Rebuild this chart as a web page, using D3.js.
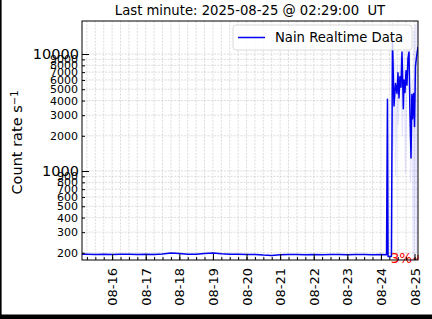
<!DOCTYPE html>
<html>
<head>
<meta charset="utf-8">
<script src="https://cdn.jsdelivr.net/npm/d3@7"></script>
<style>
body { margin:0; background:#fff; }
svg { display:block; font-family:"DejaVu Sans", sans-serif; }
</style>
</head>
<body>
<div id="chart-area"></div>
<script>
// Data
var times = [
    "2025-08-15T02:29","2025-08-15T06:00","2025-08-15T12:00","2025-08-15T18:00",
    "2025-08-16T00:00","2025-08-16T06:00","2025-08-16T12:00","2025-08-16T18:00",
    "2025-08-17T00:00","2025-08-17T06:00","2025-08-17T12:00","2025-08-17T18:00",
    "2025-08-18T00:00","2025-08-18T06:00","2025-08-18T12:00","2025-08-18T18:00",
    "2025-08-19T00:00","2025-08-19T06:00","2025-08-19T12:00","2025-08-19T18:00",
    "2025-08-20T00:00","2025-08-20T06:00","2025-08-20T12:00","2025-08-20T18:00",
    "2025-08-21T00:00","2025-08-21T06:00","2025-08-21T12:00","2025-08-21T18:00",
    "2025-08-22T00:00","2025-08-22T06:00","2025-08-22T12:00","2025-08-22T18:00",
    "2025-08-23T00:00","2025-08-23T06:00","2025-08-23T12:00","2025-08-23T18:00",
    "2025-08-24T00:00","2025-08-24T04:00","2025-08-24T04:40","2025-08-24T05:05",
    "2025-08-24T07:30","2025-08-24T08:15","2025-08-24T09:20","2025-08-24T10:25",
    "2025-08-24T11:29","2025-08-24T12:11","2025-08-24T12:54","2025-08-24T13:35",
    "2025-08-24T14:20","2025-08-24T15:03","2025-08-24T16:00","2025-08-24T16:29",
    "2025-08-24T17:11","2025-08-24T17:55","2025-08-24T18:35","2025-08-24T19:20",
    "2025-08-24T20:03","2025-08-24T20:45","2025-08-24T21:29","2025-08-24T22:05",
    "2025-08-24T22:35","2025-08-24T23:17","2025-08-25T00:00","2025-08-25T00:40",
    "2025-08-25T01:25","2025-08-25T02:29"
];
var counts = [
    194, 194, 193, 194,
    193, 194, 194, 193,
    194, 193, 195, 199,
    197, 194, 194, 197,
    199, 196, 194, 194,
    193, 193, 191, 190,
    192, 193, 193, 192,
    193, 192, 193, 193,
    192, 193, 193, 192,
    193, 192, 4100, 186,
    186, 13700, 3600, 5600,
    4600, 6900, 4200, 6400,
    5200, 10400, 3400, 6000,
    4700, 7200, 5400, 9200,
    10400, 3100, 1290, 4500,
    2800, 4600, 2400, 7800,
    9400, 11500
];
// faint raw trace behind the main line
var rawTimes = [
    "2025-08-24T07:55","2025-08-24T08:10","2025-08-24T08:40","2025-08-24T09:50",
    "2025-08-24T10:30","2025-08-24T11:40","2025-08-24T12:20","2025-08-24T14:00",
    "2025-08-24T15:20","2025-08-24T16:40","2025-08-24T17:30","2025-08-24T19:00",
    "2025-08-24T20:20","2025-08-24T21:10","2025-08-24T22:20","2025-08-24T23:00",
    "2025-08-24T23:30","2025-08-25T00:10","2025-08-25T00:50","2025-08-25T01:30",
    "2025-08-25T02:00","2025-08-25T02:29"
];
var rawCounts = [
    190, 18500, 1500, 9000,
    900, 8000, 2500, 9500,
    2000, 12000, 950, 11000,
    17500, 800, 6000, 180,
    16000, 185, 18000, 200,
    19000, 12000
];
var xTicks = ["2025-08-16","2025-08-17","2025-08-18","2025-08-19","2025-08-20",
              "2025-08-21","2025-08-22","2025-08-23","2025-08-24","2025-08-25"];
var yMajorTicks = [1000, 10000];
var yMinorTicks = [200, 300, 400, 500, 600, 700, 800, 900,
                   2000, 3000, 4000, 5000, 6000, 7000, 8000, 9000];
var changeTimes = ["2025-08-24T22:40", "2025-08-25T02:29"];
var changeLabel = "3%";
var titleText = "Last minute: 2025-08-25 @ 02:29:00  UT";
var seriesName = "Nain Realtime Data";

var W = 432, H = 319;
var margin = { left:82, right:14, top:21, bottom:59 };
var width = W - margin.left - margin.right,
    height = H - margin.top - margin.bottom;

var parse = d3.utcParse("%Y-%m-%dT%H:%M");
var parseDay = d3.utcParse("%Y-%m-%d");

var data = times.map(function(t, i){ return { t: parse(t), v: counts[i] }; });
var raw = rawTimes.map(function(t, i){ return { t: parse(t), v: rawCounts[i] }; });

var svg = d3.select("#chart-area")
    .append("svg")
        .attr("width", W)
        .attr("height", H);

var g = svg.append("g")
    .attr("transform", "translate(" + margin.left + "," + margin.top + ")");

// Scales
var x = d3.scaleUtc()
    .domain([parse("2025-08-15T02:29"), parse("2025-08-25T02:29")])
    .range([0, width]);

var y = d3.scaleLog()
    .domain([173.5, 19150])
    .range([height, 0]);

// Grid
var gridX = d3.utcHour.every(6).range(x.domain()[0], x.domain()[1]);
g.append("g").selectAll("line")
    .data(gridX)
    .enter().append("line")
        .attr("x1", function(d){ return x(d); })
        .attr("x2", function(d){ return x(d); })
        .attr("y1", 0).attr("y2", height)
        .attr("stroke", "#c4c4c4")
        .attr("stroke-width", 0.6)
        .attr("stroke-dasharray", "2,1.3");

g.append("g").selectAll("line")
    .data(yMajorTicks.concat(yMinorTicks))
    .enter().append("line")
        .attr("x1", 0).attr("x2", width)
        .attr("y1", function(d){ return y(d); })
        .attr("y2", function(d){ return y(d); })
        .attr("stroke", "#c4c4c4")
        .attr("stroke-width", 0.6)
        .attr("stroke-dasharray", "2,1.3");

// clip
svg.append("defs").append("clipPath").attr("id", "clip")
    .append("rect").attr("width", width).attr("height", height);

var line = d3.line()
    .x(function(d){ return x(d.t); })
    .y(function(d){ return y(d.v); });

var plot = g.append("g").attr("clip-path", "url(#clip)");

plot.append("path")
    .datum(raw)
    .attr("d", line)
    .attr("fill", "none")
    .attr("stroke", "#7070ff")
    .attr("stroke-opacity", 0.18)
    .attr("stroke-width", 1.2);

plot.append("path")
    .datum(data)
    .attr("d", line)
    .attr("fill", "none")
    .attr("stroke", "#0000ee")
    .attr("stroke-width", 1.5)
    .attr("stroke-linejoin", "round");

// percent change marker
var c0 = parse(changeTimes[0]), c1 = parse(changeTimes[1]);
g.append("path")
    .attr("d", "M" + x(c0) + "," + y(177) + "H" + x(c1) + "V" + y(191))
    .attr("fill", "none")
    .attr("stroke", "red")
    .attr("stroke-width", 1.2);
g.append("text")
    .attr("x", x(c0) - 0.5)
    .attr("y", height + 2.5)
    .attr("text-anchor", "end")
    .attr("font-size", "13.5px")
    .attr("fill", "red")
    .text(changeLabel);

// X axis (inward ticks)
var xAxisGroup = g.append("g")
    .attr("transform", "translate(0," + height + ")");
xAxisGroup.call(d3.axisBottom(x)
        .tickValues(gridX)
        .tickSize(-3)
        .tickFormat(""))
    .call(function(s){ s.select(".domain").remove(); });

var xMajor = g.append("g")
    .attr("transform", "translate(0," + height + ")");
xMajor.call(d3.axisBottom(x)
        .tickValues(xTicks.map(parseDay))
        .tickSize(-6)
        .tickFormat(d3.utcFormat("%m-%d")))
    .call(function(s){ s.select(".domain").remove(); });
xMajor.selectAll("text")
    .attr("font-size", "13px")
    .attr("font-family", "DejaVu Sans")
    .attr("fill", "#000")
    .attr("text-anchor", "end")
    .attr("transform", "rotate(-90)")
    .attr("x", -8)
    .attr("y", 0)
    .attr("dy", "0.35em");

// Y axis
var yMinor = g.append("g");
yMinor.call(d3.axisLeft(y)
        .tickValues(yMinorTicks)
        .tickSize(-3)
        .tickPadding(4)
        .tickFormat(d3.format("d")))
    .call(function(s){ s.select(".domain").remove(); });
yMinor.selectAll("text")
    .attr("font-size", "11px")
    .attr("font-family", "DejaVu Sans")
    .attr("fill", "#000");

var yMajor = g.append("g");
yMajor.call(d3.axisLeft(y)
        .tickValues(yMajorTicks)
        .tickSize(-7)
        .tickPadding(3)
        .tickFormat(d3.format("d")))
    .call(function(s){ s.select(".domain").remove(); });
yMajor.selectAll("text")
    .attr("font-size", "14.5px")
    .attr("font-family", "DejaVu Sans")
    .attr("fill", "#000");

// frame
g.append("rect")
    .attr("width", width).attr("height", height)
    .attr("fill", "none")
    .attr("stroke", "#000")
    .attr("stroke-width", 1);

// Legend
var lg = g.append("g").attr("transform", "translate(" + (233 - margin.left) + "," + (25 - margin.top) + ")");
lg.append("rect")
    .attr("width", 179).attr("height", 25).attr("rx", 3)
    .attr("fill", "#fff").attr("fill-opacity", 0.8)
    .attr("stroke", "#d0d0d0").attr("stroke-width", 0.8);
lg.append("line")
    .attr("x1", 5).attr("x2", 32).attr("y1", 12.5).attr("y2", 12.5)
    .attr("stroke", "#0000ee").attr("stroke-width", 1.5);
lg.append("text")
    .attr("x", 42).attr("y", 12.5).attr("dy", "0.35em")
    .attr("font-size", "13.2px")
    .text(seriesName);

// Title
svg.append("text")
    .attr("x", margin.left + width / 2)
    .attr("y", 15)
    .attr("text-anchor", "middle")
    .attr("font-size", "13.2px")
    .style("white-space", "pre")
    .text(titleText);

// Y label
var yl = svg.append("text")
    .attr("transform", "translate(22," + (margin.top + height / 2 + 2) + ") rotate(-90)")
    .attr("text-anchor", "middle")
    .attr("font-size", "14.5px");
yl.append("tspan").text("Count rate s");
yl.append("tspan").attr("dy", "-0.45em").attr("font-size", "10px").text("\u22121");

// outer border pieces
svg.append("rect").attr("x", 0).attr("y", 0).attr("width", 1.6).attr("height", H).attr("fill", "#000");
svg.append("rect").attr("x", 0).attr("y", 314.5).attr("width", W).attr("height", H - 314.5).attr("fill", "#000");
</script>
</body>
</html>
